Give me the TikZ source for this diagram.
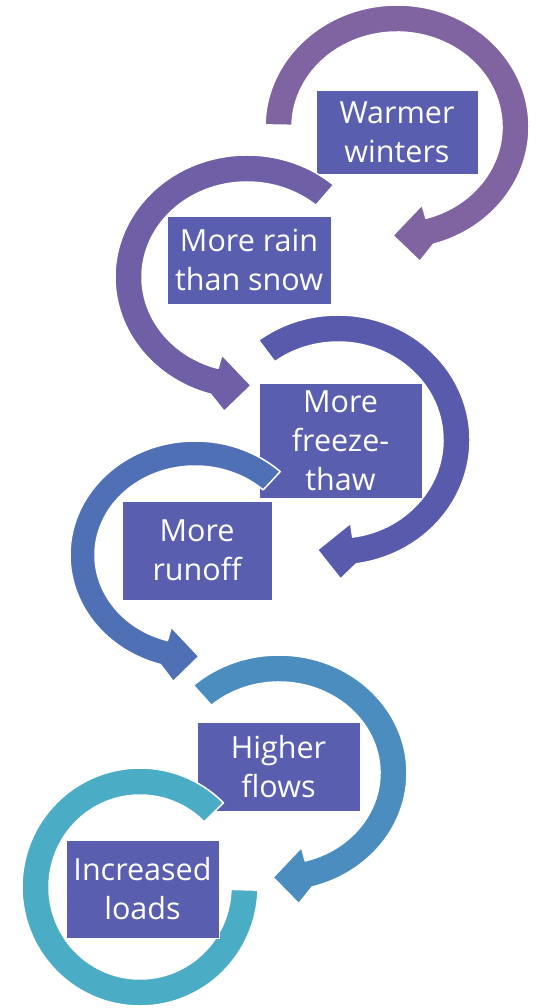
\documentclass[tikz,border=0pt]{standalone}
\usepackage{fontspec}
\setmainfont{Open Sans}
\definecolor{cA}{HTML}{7F64A1}
\definecolor{cB}{HTML}{6E5FA6}
\definecolor{cC}{HTML}{585AAC}
\definecolor{cD}{HTML}{5070B6}
\definecolor{cE}{HTML}{4C8DBF}
\definecolor{cF}{HTML}{4BACC6}
\definecolor{boxc}{HTML}{5A5EAE}
\tikzset{lbl/.style={fill=boxc, draw=white, line width=0.8pt, text=white, align=center, inner sep=0pt, font=\fontsize{30.5}{39}\selectfont}}
% #1 cx, #2 cy, #3 rx, #4 ry, #5 thickness, #6 start, #7 band end, #8 direction (+1 ccw, -1 cw), #9 colour
\newcommand\carrow[9]{%
\begin{scope}[shift={(#1,#2)}]
\pgfmathsetmacro\rxo{#3}\pgfmathsetmacro\ryo{#4}%
\pgfmathsetmacro\rxi{#3-#5}\pgfmathsetmacro\ryi{#4-#5}%
\pgfmathsetmacro\rxm{#3-(#5)/2}\pgfmathsetmacro\rym{#4-(#5)/2}%
\pgfmathsetmacro\rxa{#3+14}\pgfmathsetmacro\rya{#4+14}%
\pgfmathsetmacro\rxb{#3-#5-14}\pgfmathsetmacro\ryb{#4-#5-14}%
\pgfmathsetmacro\angb{(#7)+(#8)*7}%
\pgfmathsetmacro\angt{(#7)+(#8)*18}%
\fill[#9, draw=white, line width=1.5pt, line join=round]
 ({\rxo*cos(#6)},{\ryo*sin(#6)}) arc[start angle=#6, end angle=#7, x radius=\rxo, y radius=\ryo]
 -- ({\rxa*cos(\angb)},{\rya*sin(\angb)})
 -- ({\rxm*cos(\angt)},{\rym*sin(\angt)})
 -- ({\rxb*cos(#7)},{\ryb*sin(#7)})
 -- ({\rxi*cos(#7)},{\ryi*sin(#7)})
 arc[start angle=#7, end angle=#6, x radius=\rxi, y radius=\ryi] -- cycle;
\end{scope}}
% band without head: #1 cx, #2 cy, #3 rx, #4 ry, #5 thickness, #6 start, #7 end, #8 colour
\newcommand\cband[8]{%
\begin{scope}[shift={(#1,#2)}]
\pgfmathsetmacro\rxo{#3}\pgfmathsetmacro\ryo{#4}%
\pgfmathsetmacro\rxi{#3-#5}\pgfmathsetmacro\ryi{#4-#5}%
\fill[#8, draw=white, line width=1.5pt, line join=round]
 ({\rxo*cos(#6)},{\ryo*sin(#6)}) arc[start angle=#6, end angle=#7, x radius=\rxo, y radius=\ryo]
 -- ({\rxi*cos(#7)},{\ryi*sin(#7)})
 arc[start angle=#7, end angle=#6, x radius=\rxi, y radius=\ryi] -- cycle;
\end{scope}}
\begin{document}
\begin{tikzpicture}[x=1pt,y=1pt]
\fill[white] (0,0) rectangle (536,-1008);
\useasboundingbox (0,0) rectangle (536,-1008);
% 1
\carrow{397}{-127}{132}{122}{27}{179}{-74}{-1}{cA}
\node[lbl, minimum width=162pt, minimum height=84pt] (b1) at (397,-132) {Warmer\\winters};
% 2
\carrow{247}{-277}{132}{122}{27}{49}{254}{1}{cB}
\node[lbl, minimum width=164pt, minimum height=88pt] (b2) at (249,-260) {More rain\\than snow};
% 3
\carrow{338}{-440}{132}{125}{27}{127}{-82}{-1}{cC}
\node[lbl, minimum width=163pt, minimum height=115pt] (b3) at (340.5,-440.5) {More\\freeze-\\thaw};
% 4
\carrow{195}{-555}{125}{114}{25}{47}{254}{1}{cD}
\node[lbl, minimum width=150pt, minimum height=99pt] (b4) at (197,-550.5) {More\\runoff};
% 5
\carrow{279}{-773}{128}{118}{27}{132}{-75}{-1}{cE}
\node[lbl, minimum width=163pt, minimum height=89pt] (b5) at (278.5,-766.5) {Higher\\flows};
% 6
\cband{140}{-887}{118}{119}{27}{45}{358.5}{cF}
\node[lbl, minimum width=153pt, minimum height=98pt] (b6) at (142.5,-889) {Increased\\loads};
\end{tikzpicture}
\end{document}
